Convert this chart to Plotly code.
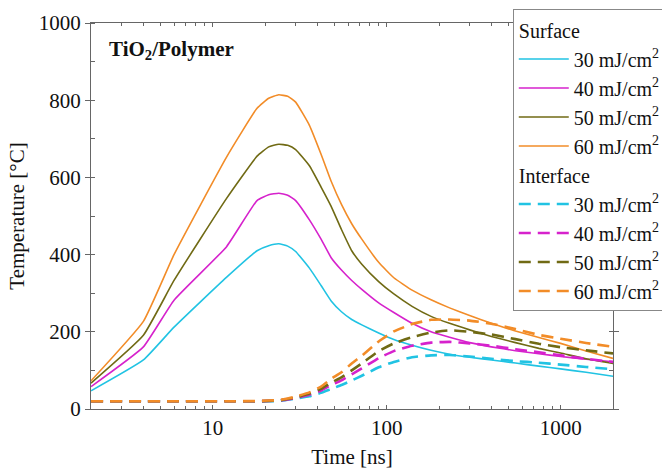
import plotly.graph_objects as go

# time points [ns]
t = [2, 4, 6, 12, 18, 21, 24, 27, 30, 36, 42, 48, 55, 63, 72, 90, 110, 140, 180, 230, 300, 400, 550, 750, 1000, 1400, 2000]

# Surface temperatures [°C]
surf_30 = [47, 127, 212, 341, 410, 423, 428, 422, 408, 365, 320, 280, 252, 232, 218, 197, 180, 165, 152, 142, 134, 127, 119, 111, 104, 95, 85]
surf_40 = [58, 161, 282, 420, 540, 555, 559, 554, 540, 490, 440, 392, 360, 333, 310, 275, 250, 222, 200, 186, 172, 161, 151, 143, 136, 129, 122]
surf_50 = [67, 191, 333, 545, 655, 679, 686, 683, 672, 630, 575, 525, 465, 410, 375, 330, 298, 266, 240, 222, 205, 188, 172, 157, 145, 130, 118]
surf_60 = [73, 227, 400, 652, 779, 805, 814, 810, 795, 735, 660, 590, 530, 480, 440, 380, 340, 308, 283, 262, 242, 222, 202, 185, 170, 150, 131]

# Interface temperatures [°C]
int_30 = [20, 20, 20, 20, 20, 20, 21, 24, 27, 33, 42, 52, 62, 74, 86, 108, 122, 134, 139, 140, 136, 130, 124, 120, 115, 109, 103]
int_40 = [20, 20, 20, 20, 20, 21, 22, 25, 29, 37, 48, 62, 74, 90, 105, 132, 150, 164, 172, 174, 170, 164, 155, 147, 139, 130, 122]
int_50 = [20, 20, 20, 20, 20, 21, 22, 26, 30, 40, 52, 68, 82, 100, 118, 150, 170, 186, 198, 204, 200, 193, 181, 169, 160, 152, 144]
int_60 = [20, 20, 20, 20, 21, 22, 23, 27, 32, 43, 58, 78, 95, 118, 138, 175, 201, 220, 231, 232, 229, 221, 207, 192, 182, 171, 161]

labels = ["30 mJ/cm<sup>2</sup>", "40 mJ/cm<sup>2</sup>", "50 mJ/cm<sup>2</sup>", "60 mJ/cm<sup>2</sup>"]
colors = ["#21c3e3", "#d622cc", "#706a14", "#f28c28"]

x_minor = [3, 4, 5, 6, 7, 8, 9, 20, 30, 40, 50, 60, 70, 80, 90, 200, 300, 400, 500, 600, 700, 800, 900, 2000]

FONT = "Liberation Serif, Times New Roman, serif"

fig = go.Figure()
for lab, col, ys in zip(labels, colors, [surf_30, surf_40, surf_50, surf_60]):
    fig.add_trace(go.Scatter(x=t, y=ys, mode="lines", name=lab,
                             line=dict(color=col, width=1.6, shape="spline", smoothing=0.4),
                             legendgroup="surface", legendgrouptitle_text="Surface"))
for lab, col, ys in zip(labels, colors, [int_30, int_40, int_50, int_60]):
    fig.add_trace(go.Scatter(x=t, y=ys, mode="lines", name=lab,
                             line=dict(color=col, width=2.6, dash="12px,7px", shape="spline", smoothing=0.4),
                             legendgroup="interface", legendgrouptitle_text="Interface"))

axis_common = dict(showline=True, linecolor="#666666", linewidth=1.2, mirror="ticks",
                   showgrid=False, zeroline=False, tickcolor="#666666",
                   tickfont=dict(family=FONT, size=21, color="#111111"),
                   title_font=dict(family=FONT, size=21, color="#111111"))

fig.update_xaxes(type="log", range=[0.301, 3.301], tickvals=[10, 100, 1000],
                 ticktext=["10", "100", "1000"], ticks="inside", ticklen=4,
                 minor=dict(ticks="inside", ticklen=3, tickcolor="#666666", showgrid=False,
                            tickmode="array", tickvals=x_minor),
                 title_text="Time [ns]", title_standoff=18, **axis_common)
fig.update_yaxes(range=[0, 1000], tickvals=[0, 200, 400, 600, 800, 1000],
                 ticks="outside", ticklen=5,
                 minor=dict(ticks="inside", ticklen=4, dtick=100, tickcolor="#666666", showgrid=False),
                 title_text="Temperature [°C]", title_standoff=8, **axis_common)

fig.add_annotation(x=0.031, y=0.929, xref="paper", yref="paper", xanchor="left", yanchor="middle",
                   text="<b>TiO<sub>2</sub>/Polymer</b>", showarrow=False,
                   font=dict(family=FONT, size=21, color="#111111"))

fig.update_layout(
    width=662, height=469,
    margin=dict(l=91, r=49, t=23, b=60, autoexpand=False),
    plot_bgcolor="white", paper_bgcolor="white",
    legend=dict(x=0.808, y=1.035, xanchor="left", yanchor="top",
                bgcolor="white", bordercolor="#888888", borderwidth=1,
                font=dict(family=FONT, size=20, color="#111111"),
                grouptitlefont=dict(family=FONT, size=20, color="#111111"),
                tracegroupgap=0, itemwidth=50, maxheight=1),
    showlegend=True,
)

fig.write_html("out.html")
